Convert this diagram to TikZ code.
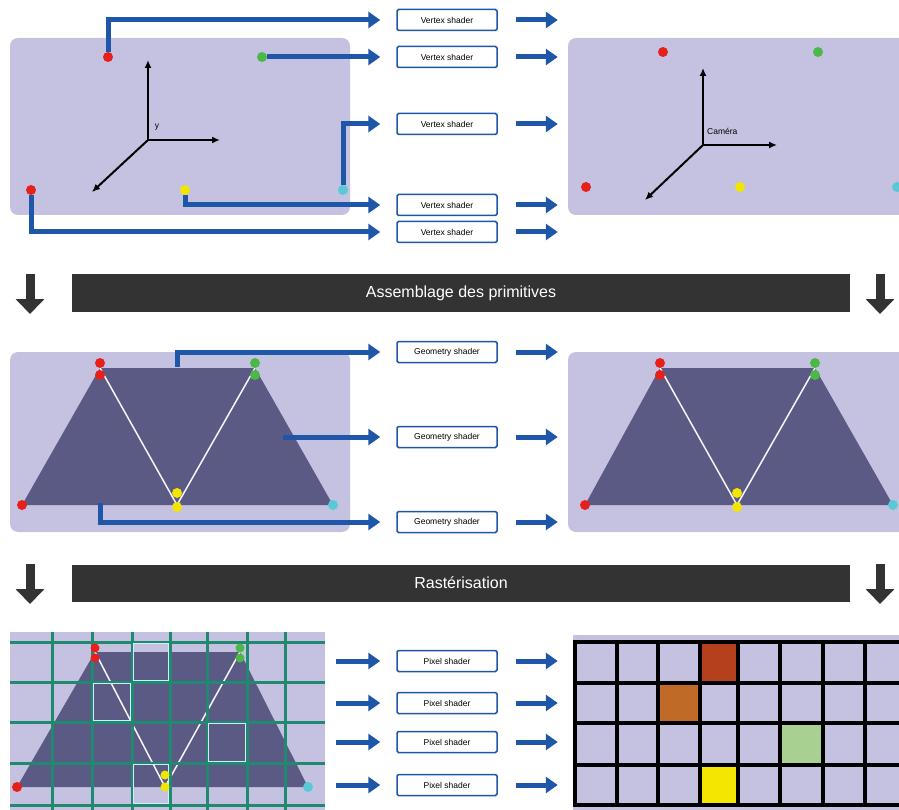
\documentclass[tikz,border=0pt]{standalone}
\usepackage{fontspec}
\setmainfont{Liberation Sans}
\usetikzlibrary{arrows.meta}
\definecolor{panel}{HTML}{C4C2E0}
\definecolor{mdark}{HTML}{5B5A85}
\definecolor{pblue}{HTML}{1E56A8}
\definecolor{banner}{HTML}{333333}
\definecolor{gridg}{HTML}{1F8A70}
\definecolor{dred}{HTML}{E8201A}
\definecolor{dgreen}{HTML}{4CB848}
\definecolor{dyellow}{HTML}{F2E600}
\definecolor{dcyan}{HTML}{5BC8D8}
\definecolor{cred}{HTML}{B5401E}
\definecolor{corange}{HTML}{C06A28}
\definecolor{cgreen}{HTML}{A8D090}
\definecolor{cyellow}{HTML}{F5E600}
\tikzset{
  dot/.style={circle, inner sep=0pt, minimum size=10pt},
  conn/.style={pblue, line width=5pt, -{Triangle[length=12pt,width=16pt]}},
  shbox/.style={draw=pblue, line width=1.5pt, rounded corners=1.5pt, fill=white,
    minimum width=100pt, minimum height=21pt, inner sep=1pt, font=\fontsize{8.5}{9}\selectfont},
  bannerbox/.style={fill=banner, text=white, minimum width=778pt, minimum height=37pt,
    inner sep=0pt, font=\fontsize{16}{17}\selectfont},
  downarrow/.style={banner, line width=9pt, -{Triangle[length=15pt,width=28pt]}},
  axis/.style={black, line width=2pt, -{Latex[length=8pt,width=7pt]}},
  panelbg/.style={fill=panel, rounded corners=8pt},
  mshape/.style={fill=mdark},
  edge/.style={white!85!panel, line width=1.5pt},
  ggrid/.style={gridg, line width=3pt},
  bgrid/.style={black, line width=4pt},
  hl/.style={draw=white!80!cyan, line width=1.5pt},
  axlabel/.style={font=\fontsize{8.5}{9}\selectfont, inner sep=1pt}
}
\begin{document}
\begin{tikzpicture}[x=1pt,y=-1pt]
\useasboundingbox (0,0) rectangle (899,810);

% ---------------- Row 1 : vertices ----------------
\fill[panelbg] (10,38) rectangle (350,215);
\fill[panelbg] (568,38) rectangle (930,215);

% axes left
\coordinate (o1) at (148,140);
\coordinate (o1u) at (148,60);
\coordinate (o1r) at (220,140);
\coordinate (o1d) at (92,192);
\draw[axis] (o1) -- (o1u);
\draw[axis] (o1) -- (o1r);
\draw[axis] (o1) -- (o1d);
\node[axlabel] (ly) at (157,127) {y};

% axes right
\coordinate (o2) at (703,145);
\coordinate (o2u) at (703,68);
\coordinate (o2r) at (777,145);
\coordinate (o2d) at (645,200);
\draw[axis] (o2) -- (o2u);
\draw[axis] (o2) -- (o2r);
\draw[axis] (o2) -- (o2d);
\node[axlabel, anchor=west] (lcam) at (706,131) {Caméra};

% vertices left
\node[dot, fill=dred] (v1) at (108,57) {};
\node[dot, fill=dgreen] (v2) at (262,57) {};
\node[dot, fill=dred] (v5) at (31,190) {};
\node[dot, fill=dyellow] (v4) at (185,190) {};
\node[dot, fill=dcyan] (v3) at (343,190) {};

% vertices right
\node[dot, fill=dred] (w1) at (663,52) {};
\node[dot, fill=dgreen] (w2) at (818,52) {};
\node[dot, fill=dred] (w5) at (586,187) {};
\node[dot, fill=dyellow] (w4) at (740,187) {};
\node[dot, fill=dcyan] (w3) at (897,187) {};

% shader boxes
\node[shbox] (b1) at (447,20) {Vertex shader};
\node[shbox] (b2) at (447,57) {Vertex shader};
\node[shbox] (b3) at (447,124) {Vertex shader};
\node[shbox] (b4) at (447,205) {Vertex shader};
\node[shbox] (b5) at (447,232) {Vertex shader};

\draw[conn] (v1) |- ([xshift=-16pt]b1.west);
\draw[conn] (v2) -- ([xshift=-16pt]b2.west);
\draw[conn] (v3) |- ([xshift=-16pt]b3.west);
\draw[conn] (v4) |- ([xshift=-16pt]b4.west);
\draw[conn] (v5) |- ([xshift=-16pt]b5.west);
\foreach \b in {b1,b2,b3,b4,b5}
  \draw[conn] ([xshift=18pt]\b.east) -- ([xshift=60pt]\b.east);

% ---------------- Banner 1 ----------------
\node[bannerbox] (ban1) at (461,293) {Assemblage des primitives};
\coordinate (da1s) at (30,274);
\coordinate (da1e) at (30,314);
\coordinate (da2s) at (880,274);
\coordinate (da2e) at (880,314);
\draw[downarrow] (da1s) -- (da1e);
\draw[downarrow] (da2s) -- (da2e);

% ---------------- Row 2 : primitives ----------------
\fill[panelbg] (10,352) rectangle (350,532);
\fill[panelbg] (568,352) rectangle (930,532);

% M shape left
\coordinate (pa) at (22,505);
\coordinate (pb) at (100,368);
\coordinate (pc) at (177,505);
\coordinate (pd) at (255,368);
\coordinate (pe) at (333,505);
\fill[mshape] (pa) -- (pb) -- (pd) -- (pe) -- cycle;
\draw[edge] (pb) -- (pc) -- (pd);

\node[dot, fill=dred] (m1) at (22,505) {};
\node[dot, fill=dred] (m2a) at (100,363) {};
\node[dot, fill=dred] (m2b) at (100,375) {};
\node[dot, fill=dgreen] (m3a) at (255,363) {};
\node[dot, fill=dgreen] (m3b) at (255,375) {};
\node[dot, fill=dyellow] (m4a) at (177,493) {};
\node[dot, fill=dyellow] (m4b) at (177,507) {};
\node[dot, fill=dcyan] (m5) at (333,505) {};

% M shape right
\coordinate (qa) at (585,505);
\coordinate (qb) at (660,368);
\coordinate (qc) at (737,505);
\coordinate (qd) at (815,368);
\coordinate (qe) at (893,505);
\fill[mshape] (qa) -- (qb) -- (qd) -- (qe) -- cycle;
\draw[edge] (qb) -- (qc) -- (qd);
\node[dot, fill=dred] (n1) at (585,505) {};
\node[dot, fill=dred] (n2a) at (660,363) {};
\node[dot, fill=dred] (n2b) at (660,375) {};
\node[dot, fill=dgreen] (n3a) at (815,363) {};
\node[dot, fill=dgreen] (n3b) at (815,375) {};
\node[dot, fill=dyellow] (n4a) at (737,493) {};
\node[dot, fill=dyellow] (n4b) at (737,507) {};
\node[dot, fill=dcyan] (n5) at (893,505) {};

\node[shbox] (g1) at (447,352) {Geometry shader};
\node[shbox] (g2) at (447,437) {Geometry shader};
\node[shbox] (g3) at (447,522) {Geometry shader};
\coordinate (t1) at (177,367);
\coordinate (t2) at (283,437);
\coordinate (t3) at (100,503);
\draw[conn] (t1) |- ([xshift=-16pt]g1.west);
\draw[conn] (t2) -- ([xshift=-16pt]g2.west);
\draw[conn] (t3) |- ([xshift=-16pt]g3.west);
\foreach \b in {g1,g2,g3}
  \draw[conn] ([xshift=18pt]\b.east) -- ([xshift=60pt]\b.east);

% ---------------- Banner 2 ----------------
\node[bannerbox] (ban2) at (461,583) {Rastérisation};
\coordinate (db1s) at (30,564);
\coordinate (db1e) at (30,604);
\coordinate (db2s) at (880,564);
\coordinate (db2e) at (880,604);
\draw[downarrow] (db1s) -- (db1e);
\draw[downarrow] (db2s) -- (db2e);

% ---------------- Row 3 : rasterisation ----------------
\fill[panel] (10,632) rectangle (325,810);
\coordinate (ra) at (17,787);
\coordinate (rb) at (95,652);
\coordinate (rc) at (165,787);
\coordinate (rd) at (240,652);
\coordinate (re) at (308,787);
\fill[mshape] (ra) -- (rb) -- (rd) -- (re) -- cycle;
\draw[edge] (rb) -- (rc) -- (rd);

\foreach \x in {52,92,132,170,207,247,285}
  \draw[ggrid] (\x,632) -- (\x,810);
\foreach \y in {642,682,722,763,805}
  \draw[ggrid] (10,\y) -- (325,\y);

\draw[hl] (133.5,643.5) rectangle (168.5,680.5);
\draw[hl] (93.5,683.5) rectangle (130.5,720.5);
\draw[hl] (208.5,723.5) rectangle (245.5,761.5);
\draw[hl] (133.5,764.5) rectangle (168.5,803.5);

\node[dot, fill=dred] (r1) at (17,787) {};
\node[dot, fill=dred, minimum size=9pt] (r2a) at (95,648) {};
\node[dot, fill=dred, minimum size=9pt] (r2b) at (95,658) {};
\node[dot, fill=dgreen, minimum size=9pt] (r3a) at (240,648) {};
\node[dot, fill=dgreen, minimum size=9pt] (r3b) at (240,658) {};
\node[dot, fill=dyellow, minimum size=9pt] (r4a) at (165,775) {};
\node[dot, fill=dyellow, minimum size=9pt] (r4b) at (165,787) {};
\node[dot, fill=dcyan] (r5) at (308,787) {};

\node[shbox] (p1) at (447,661) {Pixel shader};
\node[shbox] (p2) at (447,703) {Pixel shader};
\node[shbox] (p3) at (447,742) {Pixel shader};
\node[shbox] (p4) at (447,785) {Pixel shader};
\foreach \b in {p1,p2,p3,p4} {
  \draw[conn] ([xshift=-60pt]\b.west) -- ([xshift=-16pt]\b.west);
  \draw[conn] ([xshift=18pt]\b.east) -- ([xshift=60pt]\b.east);
}

% raster output
\fill[panel] (573,635) rectangle (899,810);
\fill[cred] (700,642) rectangle (738,683);
\fill[corange] (658,683) rectangle (700,723);
\fill[cgreen] (780,723) rectangle (823,765);
\fill[cyellow] (700,765) rectangle (738,805);
\foreach \x in {575,617,658,700,738,780,823,865}
  \draw[bgrid] (\x,640) -- (\x,807);
\foreach \y in {642,683,723,765,805}
  \draw[bgrid] (573,\y) -- (899,\y);
\end{tikzpicture}
\end{document}
